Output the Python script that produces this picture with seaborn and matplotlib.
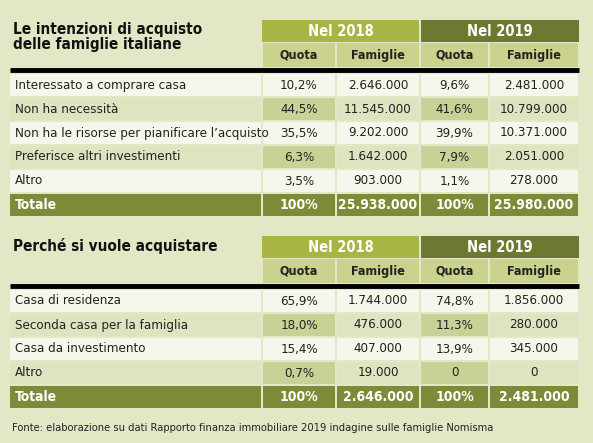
import matplotlib
matplotlib.use("Agg")
import matplotlib.pyplot as plt
import seaborn as sns
from matplotlib.patches import Rectangle

sns.set_style("white")
plt.rcParams['font.family'] = ['DejaVu Sans']
plt.rcParams['font.stretch'] = 'condensed'

# data
t1_title = "Le intenzioni di acquisto\ndelle famiglie italiane"
t1_labels = ["Interessato a comprare casa", "Non ha necessità",
             "Non ha le risorse per pianificare l’acquisto",
             "Preferisce altri investimenti", "Altro"]
t1_q18 = ["10,2%", "44,5%", "35,5%", "6,3%", "3,5%"]
t1_f18 = ["2.646.000", "11.545.000", "9.202.000", "1.642.000", "903.000"]
t1_q19 = ["9,6%", "41,6%", "39,9%", "7,9%", "1,1%"]
t1_f19 = ["2.481.000", "10.799.000", "10.371.000", "2.051.000", "278.000"]
t1_tot = ["100%", "25.938.000", "100%", "25.980.000"]

t2_title = "Perché si vuole acquistare"
t2_labels = ["Casa di residenza", "Seconda casa per la famiglia",
             "Casa da investimento", "Altro"]
t2_q18 = ["65,9%", "18,0%", "15,4%", "0,7%"]
t2_f18 = ["1.744.000", "476.000", "407.000", "19.000"]
t2_q19 = ["74,8%", "11,3%", "13,9%", "0"]
t2_f19 = ["1.856.000", "280.000", "345.000", "0"]
t2_tot = ["100%", "2.646.000", "100%", "2.481.000"]

source = "Fonte: elaborazione su dati Rapporto finanza immobiliare 2019 indagine sulle famiglie Nomisma"

BG = "#e2e8c6"
H18 = "#a8b443"
H19 = "#6d7930"
SUB = "#cbd28e"
ROW_W = "#f7f6ec"
ROW_G = "#dde4bf"
ROW_GQ = "#c9d296"
TOT = "#7b8b37"

cols = [10, 262, 336, 420, 489, 579]

fig = plt.figure(figsize=(5.93, 4.43), dpi=100)
fig.patch.set_facecolor(BG)
ax = fig.add_axes([0, 0, 1, 1])
ax.set_xlim(0, 593)
ax.set_ylim(443, 0)
ax.axis("off")


def rect(x0, y0, x1, y1, c):
    ax.add_patch(Rectangle((x0, y0), x1 - x0, y1 - y0, facecolor=c, edgecolor="none"))


def draw_table(top, title, labels, q18, f18, q19, f19, tot):
    rect(cols[1], top, cols[3] - 1, top + 22, H18)
    rect(cols[3] + 1, top, cols[5], top + 22, H19)
    ax.text((cols[1] + cols[3]) / 2, top + 11, "Nel 2018", color="white",
            fontsize=10.5, weight="bold", ha="center", va="center")
    ax.text((cols[3] + cols[5]) / 2, top + 11, "Nel 2019", color="white",
            fontsize=10.5, weight="bold", ha="center", va="center")
    for i, name in enumerate(["Quota", "Famiglie", "Quota", "Famiglie"]):
        rect(cols[i + 1] + 1, top + 23, cols[i + 2] - 1, top + 47, SUB)
        ax.text((cols[i + 1] + cols[i + 2]) / 2, top + 35, name, fontsize=9,
                weight="bold", ha="center", va="center", color="#222222")
    ax.text(cols[0] + 3, top + 2, title, fontsize=11, weight="bold",
            ha="left", va="top", color="#111111", linespacing=1.0)
    ax.plot([cols[0], cols[5]], [top + 50, top + 50], color="black", lw=3.5,
            solid_capstyle="butt")
    y = top + 53
    h = 24
    for r, lab in enumerate(labels):
        green = r % 2 == 1
        rc = ROW_G if green else ROW_W
        rect(cols[0], y + 1, cols[1] - 1, y + h - 1, rc)
        vals = [q18[r], f18[r], q19[r], f19[r]]
        for i, v in enumerate(vals):
            c = ROW_GQ if (green and i in (0, 2)) else rc
            rect(cols[i + 1] + 1, y + 1, cols[i + 2] - 1, y + h - 1, c)
            ax.text((cols[i + 1] + cols[i + 2]) / 2, y + h / 2, v, fontsize=9.5,
                    ha="center", va="center", color="#222222")
        ax.text(cols[0] + 5, y + h / 2, lab, fontsize=9.5, ha="left",
                va="center", color="#222222")
        y += h
    rect(cols[0], y + 1, cols[1] - 1, y + h - 1, TOT)
    ax.text(cols[0] + 5, y + h / 2, "Totale", fontsize=10, weight="bold",
            ha="left", va="center", color="white")
    for i, v in enumerate(tot):
        rect(cols[i + 1] + 1, y + 1, cols[i + 2] - 1, y + h - 1, TOT)
        ax.text((cols[i + 1] + cols[i + 2]) / 2, y + h / 2, v, fontsize=10,
                weight="bold", ha="center", va="center", color="white")


draw_table(20, t1_title, t1_labels, t1_q18, t1_f18, t1_q19, t1_f19, t1_tot)
draw_table(236, t2_title, t2_labels, t2_q18, t2_f18, t2_q19, t2_f19, t2_tot)
ax.text(cols[0] + 2, 428, source, fontsize=8, ha="left", va="center", color="#222222")

fig.savefig("out.png", dpi=100, facecolor=BG)
